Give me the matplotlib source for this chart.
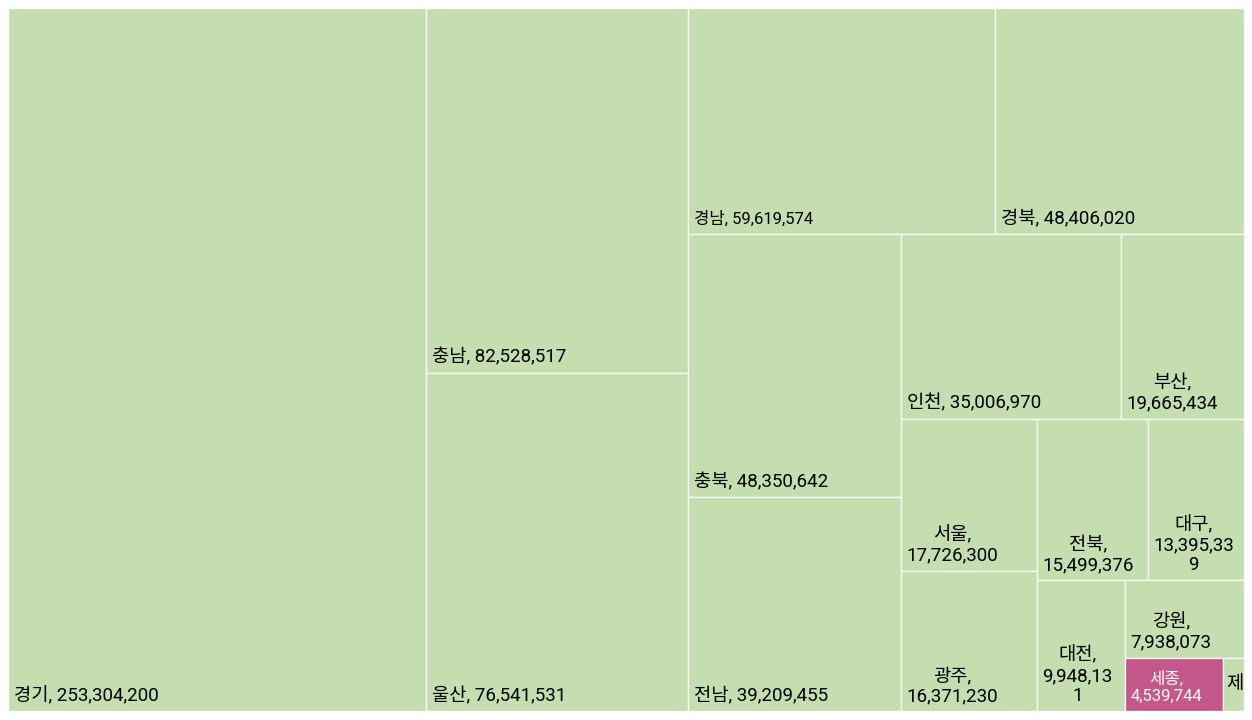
import matplotlib
matplotlib.use('Agg')
import matplotlib.pyplot as plt
from matplotlib.patches import Rectangle

# ---- data ----
regions = ['경기', '충남', '울산', '경남', '경북', '충북', '전남', '인천', '부산',
           '서울', '광주', '전북', '대구', '대전', '강원', '세종', '제주']
values = [253304200, 82528517, 76541531, 59619574, 48406020, 48350642, 39209455,
          35006970, 19665434, 17726300, 16371230, 15499376, 13395339, 9948131,
          7938073, 4539744, 950000]
highlight = '세종'

# ---- style ----
FIG_W, FIG_H = 1252, 720
X0, Y0, X1, Y1 = 8, 8, 1244, 711
GREEN = '#C4DEB0'
PINK = '#C5588B'
FAM = ['Roboto', 'Noto Sans CJK KR', 'DejaVu Sans']
BASE_SIZE = 13.5
SIZE_OVERRIDE = {'경남': 12, '세종': 12}
PAD_X = 5.5
PAD_BOTTOM = 10


# ---- squarify ----
def normalize(sizes, dx, dy):
    total = float(sum(sizes))
    return [s * dx * dy / total for s in sizes]


def layoutrow(sizes, x, y, dx, dy):
    covered = sum(sizes)
    width = covered / dy
    rects = []
    for s in sizes:
        rects.append((x, y, width, s / width))
        y += s / width
    return rects


def layoutcol(sizes, x, y, dx, dy):
    covered = sum(sizes)
    height = covered / dx
    rects = []
    for s in sizes:
        rects.append((x, y, s / height, height))
        x += s / height
    return rects


def layout(sizes, x, y, dx, dy):
    return layoutrow(sizes, x, y, dx, dy) if dx >= dy else layoutcol(sizes, x, y, dx, dy)


def leftover(sizes, x, y, dx, dy):
    covered = sum(sizes)
    if dx >= dy:
        width = covered / dy
        return x + width, y, dx - width, dy
    height = covered / dx
    return x, y + height, dx, dy - height


def worst(sizes, x, y, dx, dy):
    return max(max(w / h, h / w) for (_, _, w, h) in layout(sizes, x, y, dx, dy))


def squarify(sizes, x, y, dx, dy):
    if not sizes:
        return []
    if len(sizes) == 1:
        return layout(sizes, x, y, dx, dy)
    i = 1
    while i < len(sizes) and worst(sizes[:i], x, y, dx, dy) >= worst(sizes[:i + 1], x, y, dx, dy):
        i += 1
    cur, rem = sizes[:i], sizes[i:]
    lx, ly, ldx, ldy = leftover(cur, x, y, dx, dy)
    return layout(cur, x, y, dx, dy) + squarify(rem, lx, ly, ldx, ldy)


# ---- figure ----
fig = plt.figure(figsize=(FIG_W / 100, FIG_H / 100), dpi=100)
fig.patch.set_facecolor('white')
ax = fig.add_axes([X0 / FIG_W, 1 - Y1 / FIG_H, (X1 - X0) / FIG_W, (Y1 - Y0) / FIG_H])
DX, DY = X1 - X0, Y1 - Y0
ax.set_xlim(0, DX)
ax.set_ylim(DY, 0)
ax.axis('off')

rects = squarify(normalize(values, DX, DY), 0, 0, DX, DY)
renderer = fig.canvas.get_renderer()


def text_width(s, size):
    t = ax.text(0, 0, s, fontsize=size, family=FAM)
    bb = t.get_window_extent(renderer)
    t.remove()
    return bb.width


def char_wrap(part, size, avail):
    out, cur = [], ''
    for ch in part:
        if cur and text_width(cur + ch, size) > avail:
            out.append(cur)
            cur = ch
        else:
            cur += ch
    if cur:
        out.append(cur)
    return out


for name, val, (rx, ry, rw, rh) in zip(regions, values, rects):
    color = PINK if name == highlight else GREEN
    patch = Rectangle((rx, ry), rw, rh, facecolor=color, edgecolor='white', linewidth=0.9)
    ax.add_patch(patch)

    size = SIZE_OVERRIDE.get(name, BASE_SIZE)
    tcolor = 'white' if name == highlight else 'black'
    full = f"{name}, {val:,}"
    avail = rw - 2 * PAD_X + 1
    if text_width(full, size) <= avail:
        lines = [full]
    else:
        lines = []
        for part in (name + ',', f"{val:,}"):
            lines += char_wrap(part, size, avail)
    line_px = size * 100 / 72 * 1.25
    max_lines = max(1, int((rh - 8) // line_px))
    truncated = len(lines) > max_lines
    lines = lines[:max_lines]
    txt = '\n'.join(lines)
    if truncated:
        t = ax.text(rx + 3, ry + rh / 2, txt, fontsize=size, family=FAM, color=tcolor,
                    ha='left', va='center', multialignment='center', linespacing=1.15)
    else:
        t = ax.text(rx + PAD_X, ry + rh - PAD_BOTTOM, txt, fontsize=size, family=FAM,
                    color=tcolor, ha='left', va='baseline', multialignment='center',
                    linespacing=1.15)
    t.set_clip_path(patch)

fig.savefig('out.png', dpi=100, facecolor='white')
